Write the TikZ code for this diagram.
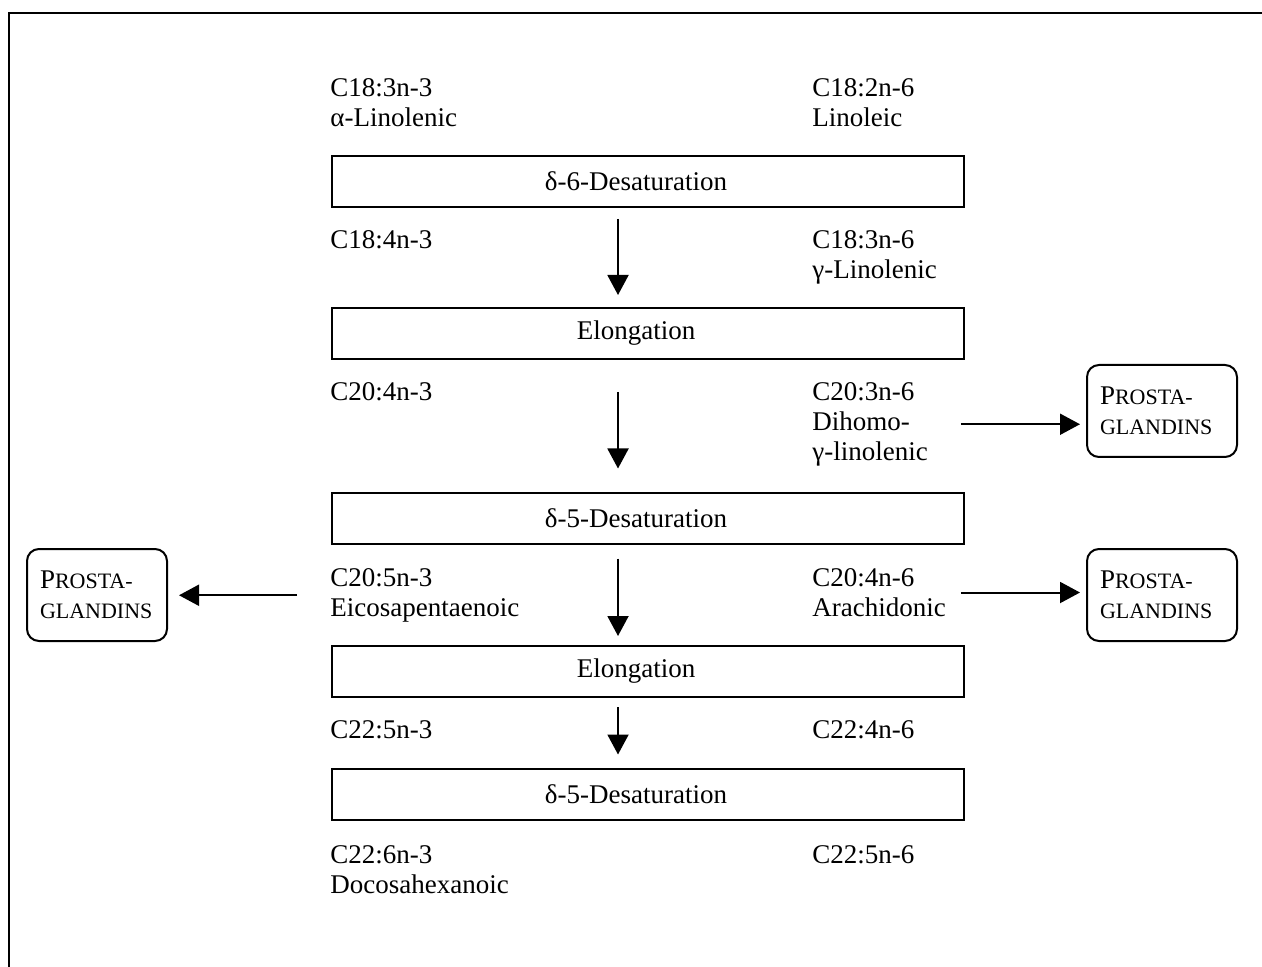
\documentclass[tikz,border=0pt]{standalone}
\usepackage{fontspec}
\setmainfont{Liberation Serif}
\usetikzlibrary{arrows.meta, positioning, calc}
\newcommand{\pgsc}[1]{{\fontsize{11}{15}\selectfont #1}}

\begin{document}
\begin{tikzpicture}[x=0.5pt, y=-0.5pt, >={Triangle[length=10pt,width=10.5pt]}, font=\fontsize{13.5}{15}\selectfont]
      \tikzstyle{enz} = [rectangle, draw, line width=1pt, minimum width=316pt, minimum height=25.5pt, inner sep=0pt, execute at begin node={\hspace*{-12pt}}]
      \tikzstyle{fa} = [anchor=north west, align=left, inner sep=0pt]
      \tikzstyle{pg} = [rectangle, draw, line width=1pt, rounded corners=6pt, minimum height=46pt, inner xsep=6.5pt, align=left]
      \tikzstyle{flow} = [->, line width=1pt]
      \useasboundingbox (0,0) rectangle (1262,967);

      % Frame
      \draw[line width=1pt] (9,967) -- (9,13) -- (1262,13);

      % Enzyme steps
      \node (d6)  [enz] at (648,181.5) {δ-6-Desaturation};
      \node (el1) [enz] at (648,333.5) {Elongation};
      \node (d5)  [enz] at (648,518)   {δ-5-Desaturation};
      \node (el2) [enz] at (648,671.5) {Elongation};
      \node (d5b) [enz] at (648,794)   {δ-5-Desaturation};

      % n-3 series
      \node (ala) [fa] at (330,78)  {C18:3n-3\\α-Linolenic};
      \node (sda) [fa] at (330,230) {C18:4n-3};
      \node (eta) [fa] at (330,382) {C20:4n-3};
      \node (epa) [fa] at (330,568) {C20:5n-3\\Eicosapentaenoic};
      \node (dpa) [fa] at (330,720) {C22:5n-3};
      \node (dha) [fa] at (330,845) {C22:6n-3\\Docosahexanoic};

      % n-6 series
      \node (la)   [fa, text width=74pt] at (812,78)  {C18:2n-6\\Linoleic};
      \node (gla)  [fa, text width=74pt] at (812,230) {C18:3n-6\\γ-Linolenic};
      \node (dgla) [fa, text width=74pt] at (812,382) {C20:3n-6\\Dihomo-\\γ-linolenic};
      \node (aa)   [fa, text width=74pt] at (812,568) {C20:4n-6\\Arachidonic};
      \node (dta)  [fa, text width=74pt] at (812,720) {C22:4n-6};
      \node (dpa6) [fa, text width=74pt] at (812,845) {C22:5n-6};

      % Prostaglandins
      \node (pg1) [pg, text width=62pt] at (1162,411) {P\pgsc{ROSTA-}\\\pgsc{GLANDINS}};
      \node (pg2) [pg, text width=57pt] at (97,595)   {P\pgsc{ROSTA-}\\\pgsc{GLANDINS}};
      \node (pg3) [pg, text width=62pt] at (1162,595) {P\pgsc{ROSTA-}\\\pgsc{GLANDINS}};

      % Pathway
      \draw[flow] ([xshift=-15pt,yshift=-5.5pt]d6.south) -- ([xshift=-15pt,yshift=6pt]el1.north);
      \draw[flow] ([xshift=-15pt,yshift=-16pt]el1.south) -- ([xshift=-15pt,yshift=11.5pt]d5.north);
      \draw[flow] ([xshift=-15pt,yshift=-7pt]d5.south) -- ([xshift=-15pt,yshift=4.5pt]el2.north);
      \draw[flow] ([xshift=-15pt,yshift=-4.5pt]el2.south) -- ([xshift=-15pt,yshift=6.5pt]d5b.north);

      % To prostaglandins
      \draw[flow, shorten >=3pt] (dgla.east) -- (dgla.east -| pg1.west);
      \draw[flow, shorten >=3pt] (aa.east) -- (aa.east -| pg3.west);
      \draw[flow, shorten >=5.5pt] ([xshift=-16.5pt]epa.west) -- (epa.west -| pg2.east);
\end{tikzpicture}
\end{document}
